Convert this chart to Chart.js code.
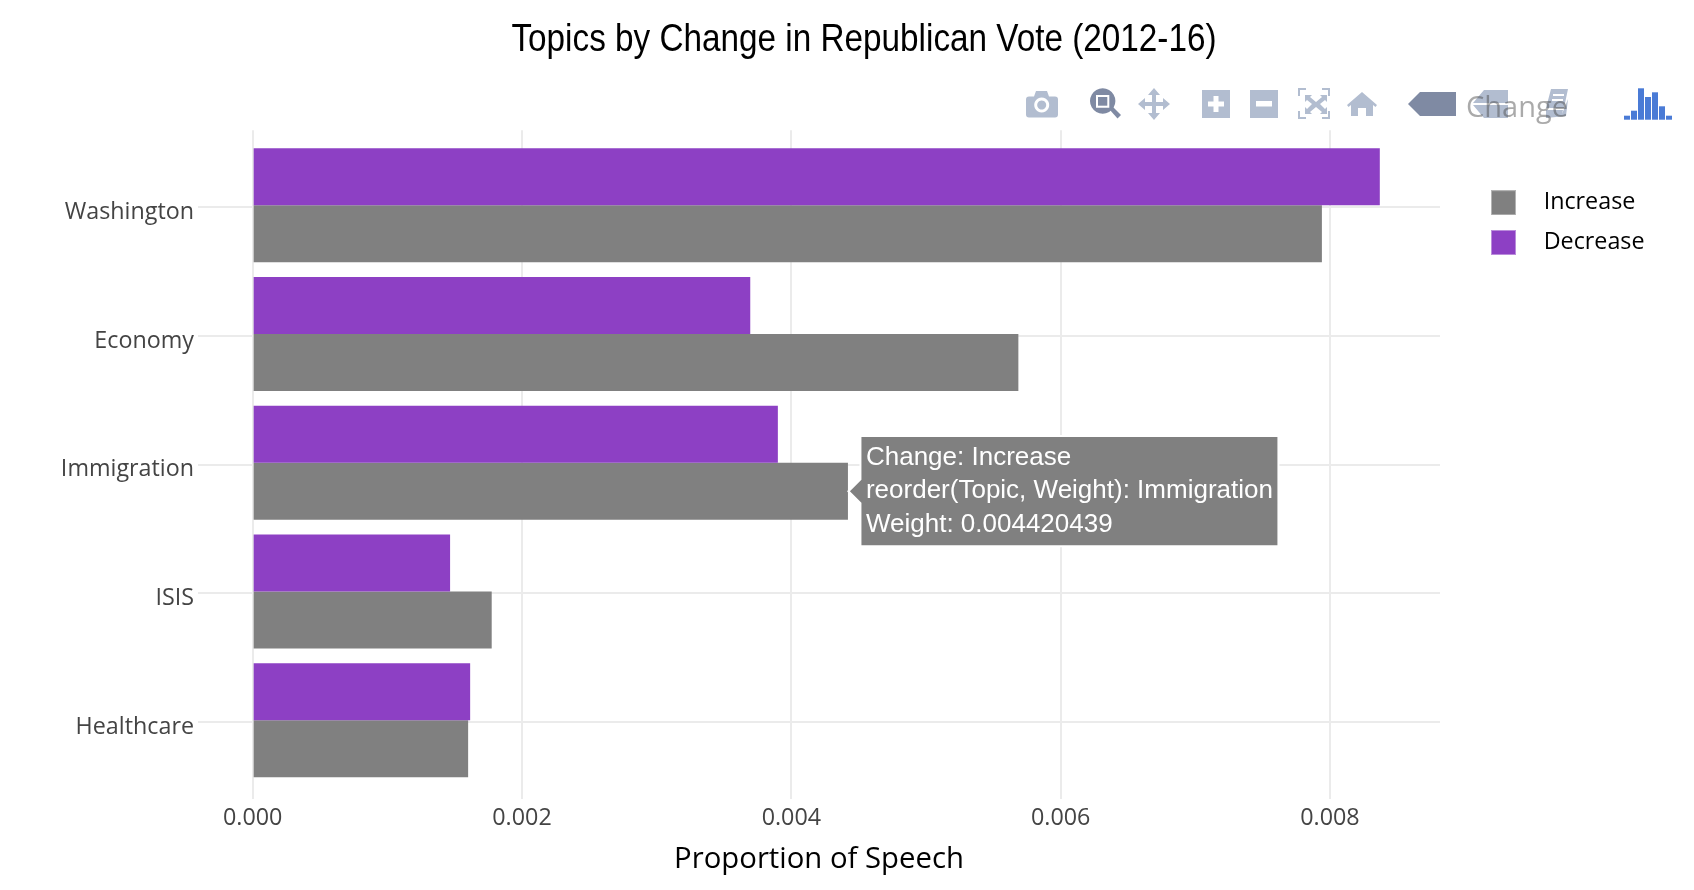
<!DOCTYPE html>
<html><head><meta charset="utf-8">
<script src="https://cdn.jsdelivr.net/npm/chart.js@4"></script>
<style>
html,body{margin:0;padding:0;background:#fff;width:1694px;height:890px;overflow:hidden}
#c{position:absolute;left:0;top:0}
#ov{position:absolute;left:0;top:0;pointer-events:none}
#chg{position:absolute;left:1466px;top:86px;font:29px "Open Sans";color:#444;opacity:.45}
</style></head><body>
<canvas id="c" width="1694" height="890"></canvas>
<svg id="ov" width="1694" height="890" viewBox="0 0 1694 890">
<g fill="#b2bdd0">
<!-- camera -->
<path fill-rule="evenodd" d="M1029 96.500h5l2-5.500h11l2 5.500h6a3 3 0 0 1 3 3v15a3 3 0 0 1-3 3h-26a3 3 0 0 1-3-3v-15a3 3 0 0 1 3-3zM1041.700 97.500a7.500 7.500 0 1 0 .01 0zM1041.700 100.500a4.500 4.500 0 1 1-.01 0z"/>
<!-- pan -->
<path d="M1154 88l6 7h-4v7h7v-4l7 6-7 6v-4h-7v7h4l-6 7-6-7h4v-7h-7v4l-7-6 7-6v4h7v-7h-4z"/>
<!-- zoom in -->
<path fill-rule="evenodd" d="M1202 90h28v28h-28zM1213.500 96v5.500h-5.500v5h5.500v5.500h5v-5.500h5.500v-5h-5.500v-5.500z"/>
<!-- zoom out -->
<path fill-rule="evenodd" d="M1250 90h28v28h-28zM1256 101v5.500h16v-5.500z"/>
<!-- autoscale -->
<path d="M1298 88h8v2h-6v6h-2zM1322 88h8v8h-2v-6h-6zM1298 111h2v6h6v2h-8zM1328 111h2v8h-8v-2h6z"/>
<path d="M1305 95h7l-2 2 6 5 6-5-2-2h7v7l-2-2-5 4 5 5 2-2v7h-7l2-2-6-5-6 5 2 2h-7v-7l2 2 5-5-5-4-2 2z"/>
<!-- home -->
<path d="M1362 92l15 13-1.500 2-2.500-2v11h-7v-8h-8v8h-7v-11l-2.500 2-1.500-2z"/>
<!-- closest hover -->
<path d="M1484 90h24v13h-35zM1473 105h35v13h-24z"/>
<!-- spikelines -->
<path d="M1551 89h17l-4 19h-18zM1546 110h17l-1 4 6-15-2 17-20 2z"/>
</g>
<path d="M1553 95h11M1552 100h11" stroke="#fff" stroke-width="2"/>
<g fill="#7f8aa3">
<path fill-rule="evenodd" d="M1102.700 88.300a12.700 12.700 0 1 1-.01 0zM1096 95v12.700h13.300v-12.700z"/>
<rect x="1098" y="97" width="9.300" height="8.700"/>
<path d="M1110 110l3-3 8 8-3.500 3.500z"/>
<path d="M1420 92h36v24h-36l-12-12z"/>
</g>
<g fill="#4a7bd6">
<rect x="1624" y="115.700" width="6" height="4"/><rect x="1631" y="110.700" width="6" height="9"/>
<rect x="1638" y="88.300" width="6" height="31.400"/><rect x="1645" y="97" width="6" height="22.700"/>
<rect x="1652" y="92.300" width="6" height="27.400"/><rect x="1659" y="106.300" width="6" height="13.400"/>
<rect x="1666" y="115.700" width="6" height="4"/>
</g>
</svg>
<div id="chg">Change</div>
<script>
const topics = ["Washington","Economy","Immigration","ISIS","Healthcare"];
const increaseValues = [0.00794,0.005686,0.004420439,0.001775,0.0016];
const decreaseValues = [0.00837,0.003695,0.0039,0.001466,0.001615];
const xTicks = [0,0.002,0.004,0.006,0.008];
const GRAY="#808080", PURPLE="#8d40c4";
function swatch(col){
  const c=document.createElement('canvas');c.width=41;c.height=25;
  const g=c.getContext('2d');g.fillStyle=col;g.fillRect(0,0,25,25);
  g.strokeStyle='rgba(255,255,255,.4)';g.lineWidth=1;g.strokeRect(.5,.5,24,24);return c;
}
const pts=a=>a.map((v,i)=>({x:v,y:i}));
const placeBoxes={id:'placeBoxes',afterLayout(ch){
  const l=ch.legend, pad=l.options.labels.padding;
  l.left=1474.5; l.right=1694; l.top=191-pad; l.bottom=797;
  const t=ch.titleBlock; t.left=34; t.right=1694; t.width=1660;
  if(!t._narrow){
    t._narrow=true; const orig=t.draw.bind(t);
    t.draw=function(){const g=t.ctx,cx=864;g.save();g.translate(cx,0);g.scale(.863,1);g.translate(-cx,0);orig();g.restore();};
  }
}};
const FONT='"Open Sans"';
const ch=new Chart(document.getElementById('c'),{
  type:'bar',
  data:{datasets:[
    {label:'Decrease',data:pts(decreaseValues),backgroundColor:PURPLE,pointStyle:swatch(PURPLE)},
    {label:'Increase',data:pts(increaseValues),backgroundColor:GRAY,pointStyle:swatch(GRAY)}
  ]},
  plugins:[placeBoxes],
  options:{
    indexAxis:'y',responsive:false,animation:false,events:[],
    layout:{padding:{left:34,right:254,top:12,bottom:12.5}},
    datasets:{bar:{categoryPercentage:0.885,barPercentage:1}},
    scales:{
      y:{type:'linear',offset:false,reverse:true,min:-0.581,max:4.614,
        afterBuildTicks(s){s.ticks=topics.map((_,i)=>({value:i+0.014}));},
        afterFit(s){s.width=164;},
        ticks:{callback:(v,i)=>topics[i],font:{family:FONT,size:23.3},color:'#444',padding:4,labelOffset:5.3,autoSkip:false},
        grid:{offset:false,color:'#ebebeb',lineWidth:2,drawTicks:false},border:{display:false}},
      x:{type:'linear',min:-0.000406,max:0.008817,
        afterBuildTicks(s){s.ticks=xTicks.map(v=>({value:v}));},
        ticks:{callback:(v)=>Number(v).toFixed(3),font:{family:FONT,size:23.3},color:'#444',padding:5,maxRotation:0,autoSkip:false},
        grid:{color:'#ebebeb',lineWidth:2,drawTicks:false},border:{display:false},
        title:{display:true,text:'Proportion of Speech',font:{family:FONT,size:29.3},color:'#000',padding:{top:5,bottom:0}}}
    },
    plugins:{
      title:{display:true,text:'Topics by Change in Republican Vote (2012-16)',color:'#000',
        font:{family:'"Liberation Sans"',size:38.6,weight:'normal'},padding:{top:5,bottom:67}},
      legend:{position:'chartArea',align:'start',reverse:true,
        labels:{usePointStyle:true,pointStyleWidth:41,font:{family:FONT,size:23.3},color:'#000',padding:16.5}},
      tooltip:{enabled:true,mode:'nearest',xAlign:'left',yAlign:'center',backgroundColor:GRAY,
        bodyColor:'#fff',bodyFont:{family:'"Liberation Sans"',size:26},bodySpacing:2.3,
        padding:{left:5.5,right:5.5,top:6,bottom:6},caretSize:12,caretPadding:0.5,cornerRadius:0,
        borderColor:'#fff',borderWidth:2,displayColors:false,
        callbacks:{title:()=>'',label(c){return ['Change: '+c.dataset.label,'reorder(Topic, Weight): '+topics[c.dataIndex],'Weight: '+c.raw.x];}}}
    }
  }
});
const el={datasetIndex:1,index:topics.indexOf('Immigration')};
const bar=ch.getDatasetMeta(1).data[el.index];
ch.tooltip.setActiveElements([el],{x:bar.x,y:bar.y});
ch.update();
</script>
</body></html>
